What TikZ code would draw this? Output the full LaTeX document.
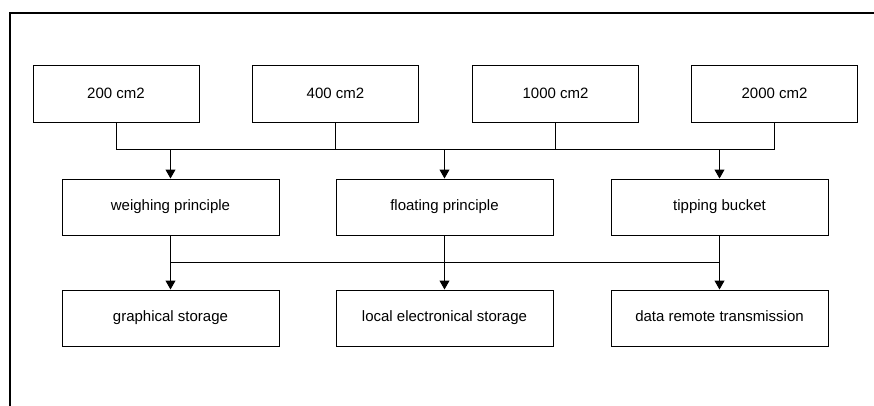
\documentclass[tikz,border=0pt]{standalone}
\usepackage{fontspec}
\setmainfont{Liberation Sans}
\usetikzlibrary{arrows.meta}
\begin{document}
\begin{tikzpicture}[x=1pt,y=-1pt,
  boxtext/.style={font=\fontsize{15}{17}\selectfont,text height=10.8pt,text depth=3.2pt,inner sep=0pt},
  topbox/.style={draw,line width=1pt,minimum width=166pt,minimum height=57pt,boxtext},
  midbox/.style={draw,line width=1pt,minimum width=217pt,minimum height=56pt,boxtext},
  wire/.style={line width=1pt},
  arr/.style={line width=1pt,-{Triangle[length=9pt,width=10pt]}}]
\useasboundingbox (0,0) rectangle (874,406);
\draw[line width=1.6pt] (10,410) -- (10,13) -- (880,13);
\node[topbox] (t1) at (116,94.5) {200 cm2};
\node[topbox] (t2) at (335.5,94.5) {400 cm2};
\node[topbox] (t3) at (555.5,94.5) {1000 cm2};
\node[topbox] (t4) at (774.5,94.5) {2000 cm2};
\node[midbox] (m1) at (170.5,207) {weighing principle};
\node[midbox] (m2) at (444.5,207) {floating principle};
\node[midbox] (m3) at (719.5,207) {tipping bucket};
\node[midbox] (b1) at (170.5,318) {graphical storage};
\node[midbox] (b2) at (444.5,318) {local electronical storage};
\node[midbox] (b3) at (719.5,318) {data remote transmission};
\coordinate (bus1) at (0,150);
\coordinate (bus2) at (0,262);
\draw[wire] (t1.south) -- (t1.south |- bus1) -- (t4.south |- bus1) -- (t4.south);
\draw[wire] (t2.south) -- (t2.south |- bus1);
\draw[wire] (t3.south) -- (t3.south |- bus1);
\draw[arr] (m1.north |- bus1) -- (m1.north);
\draw[arr] (m2.north |- bus1) -- (m2.north);
\draw[arr] (m3.north |- bus1) -- (m3.north);
\draw[wire] (m1.south |- bus2) -- (m3.south |- bus2);
\draw[arr] (m1.south) -- (b1.north);
\draw[arr] (m2.south) -- (b2.north);
\draw[arr] (m3.south) -- (b3.north);
\end{tikzpicture}
\end{document}
